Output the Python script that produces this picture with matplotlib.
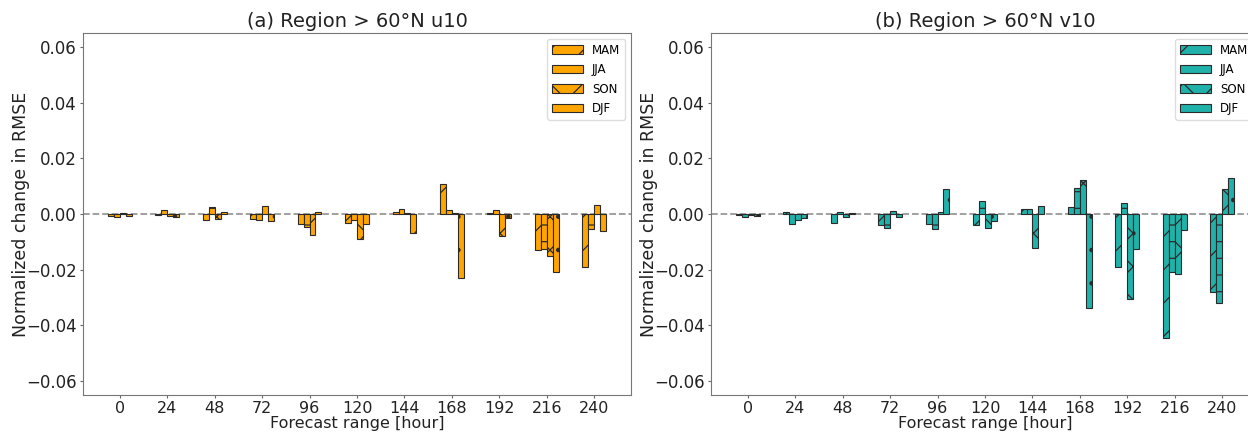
import matplotlib
matplotlib.use("Agg")
import matplotlib.pyplot as plt
import numpy as np

plt.rcParams['hatch.linewidth'] = 0.9

hours = [0, 24, 48, 72, 96, 120, 144, 168, 192, 216, 240]
seasons = ["MAM", "JJA", "SON", "DJF"]
hatches = ["/", "-", "x", "."]

# panel (a) u10
u10_MAM = [-0.0006, -0.0002, -0.0022, -0.0017, -0.0035, -0.0033, 0.0008, 0.0108, 0.0002, -0.0130, -0.0190]
u10_JJA = [-0.0011, 0.0014, 0.0025, -0.0020, -0.0048, -0.0020, 0.0017, 0.0016, 0.0015, -0.0124, -0.0053]
u10_SON = [0.0003, -0.0008, -0.0018, 0.0027, -0.0076, -0.0088, 0.0003, 0.0003, -0.0080, -0.0152, 0.0032]
u10_DJF = [-0.0006, -0.0010, 0.0008, -0.0026, 0.0007, -0.0035, -0.0070, -0.0230, -0.0014, -0.0208, -0.0060]

# panel (b) v10
v10_MAM = [-0.0004, 0.0006, -0.0032, -0.0040, -0.0037, -0.0040, 0.0017, 0.0025, -0.0192, -0.0444, -0.0280]
v10_JJA = [-0.0009, -0.0035, 0.0007, -0.0052, -0.0055, 0.0047, 0.0019, 0.0094, 0.0038, -0.0209, -0.0319]
v10_SON = [-0.0003, -0.0022, -0.0010, 0.0010, 0.0006, -0.0050, -0.0122, 0.0123, -0.0306, -0.0215, 0.0090]
v10_DJF = [-0.0008, -0.0015, 0.0003, -0.0012, 0.0090, -0.0026, 0.0029, -0.0337, -0.0127, -0.0056, 0.0130]

panels = [
    ("(a) Region > 60°N u10", "#FFA500", [u10_MAM, u10_JJA, u10_SON, u10_DJF]),
    ("(b) Region > 60°N v10", "#20B2AA", [v10_MAM, v10_JJA, v10_SON, v10_DJF]),
]

fig = plt.figure(figsize=(12.48, 4.34), dpi=100)
lefts = [83 / 1248, 711 / 1248]
w = 548 / 1248
b = 39 / 434
h = 362 / 434

x = np.arange(len(hours))
bw = 0.125
for (title, color, series), l in zip(panels, lefts):
    ax = fig.add_axes([l, b, w, h])
    for i, (name, vals, hat) in enumerate(zip(seasons, series, hatches)):
        ax.bar(x + (i - 1.5) * bw, vals, width=bw, color=color, edgecolor="#2a2a2a",
               linewidth=0.8, hatch=hat, label=name)
    ax.axhline(0, color="#999999", linestyle="--", linewidth=1.3, zorder=0)
    ax.set_ylim(-0.065, 0.065)
    ax.set_yticks([-0.06, -0.04, -0.02, 0.0, 0.02, 0.04, 0.06])
    ax.set_xticks(x)
    ax.set_xticklabels([str(hh) for hh in hours])
    ax.set_xlim(-0.775, 10.775)
    ax.tick_params(axis="y", labelsize=12, color="#666666", labelcolor="#222222",
                   length=2.3, pad=2.3)
    ax.tick_params(axis="x", labelsize=11.5, color="#666666", labelcolor="#222222",
                   length=2.3, pad=1.8)
    for s in ax.spines.values():
        s.set_color("#777777")
    ax.set_title(title, fontsize=14, color="#222222", pad=4)
    ax.set_xlabel("Forecast range [hour]", fontsize=11.5, color="#222222")
    ax.set_ylabel("Normalized change in RMSE", fontsize=12.5, color="#222222")
    ax.xaxis.set_label_coords(0.5, -0.058)
    ax.yaxis.set_label_coords(-0.097, 0.5)
    ax.legend(loc="upper right", fontsize=8.5, handlelength=2.6, framealpha=1,
              edgecolor="#dddddd", labelspacing=0.55, borderaxespad=0.5)

fig.savefig("out.png", dpi=100)
